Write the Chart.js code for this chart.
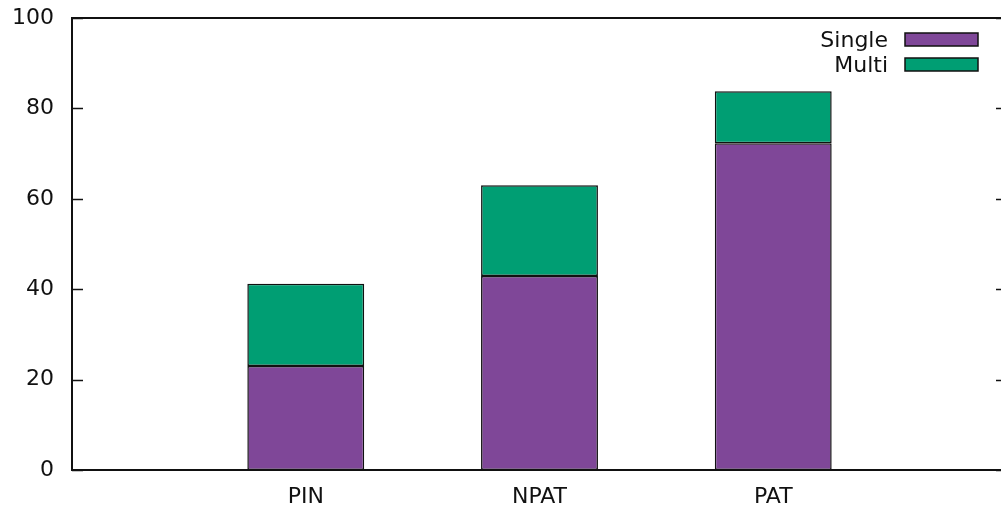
<!DOCTYPE html>
<html>
<head>
<meta charset="utf-8">
<script src="https://cdn.jsdelivr.net/npm/chart.js@4/dist/chart.umd.min.js"></script>
<style>
  html, body { margin: 0; padding: 0; background: #fff; overflow: hidden; }
  #wrap { width: 1010px; height: 508px; }
</style>
</head>
<body>
<div id="wrap"><canvas id="c" width="1010" height="508"></canvas></div>
<script>
const categories = ['PIN', 'NPAT', 'PAT'];
const singleValues = [23.0, 42.9, 72.3];
const multiValues = [18.2, 20.1, 11.5];
const yTicks = [0, 20, 40, 60, 80, 100];

const FONT = 'DejaVu Sans';
const FONT_SIZE = 22;
const BORDER = '#111';

const toPoints = vals => vals.map((v, i) => ({ x: i, y: v }));

// gnuplot-like frame: full border plus inward ticks on both y sides
const framePlugin = {
  id: 'frame',
  afterDatasetsDraw(chart) {
    const { ctx, chartArea: a, scales } = chart;
    ctx.save();
    ctx.strokeStyle = BORDER;
    ctx.lineWidth = 1.5;
    scales.y.ticks.forEach(t => {
      const py = Math.round(scales.y.getPixelForValue(t.value)) + 0.5;
      ctx.beginPath();
      ctx.moveTo(a.left, py); ctx.lineTo(a.left + 11, py);
      ctx.moveTo(a.right - 11, py); ctx.lineTo(a.right, py);
      ctx.stroke();
    });
    ctx.lineWidth = 2;
    ctx.strokeRect(a.left, a.top, a.right - a.left, a.bottom - a.top);
    ctx.restore();
  }
};

// key in the upper right: label text followed by a filled swatch
const keyPlugin = {
  id: 'key',
  afterDraw(chart) {
    const { ctx } = chart;
    ctx.save();
    ctx.font = FONT_SIZE + 'px "' + FONT + '"';
    ctx.textAlign = 'right';
    ctx.textBaseline = 'alphabetic';
    chart.data.datasets.forEach((ds, i) => {
      const top = 33 + i * 25;
      ctx.fillStyle = '#111';
      ctx.fillText(ds.label, 888, top + 14);
      ctx.fillStyle = ds.backgroundColor;
      ctx.fillRect(905, top, 73, 13);
      ctx.strokeStyle = BORDER;
      ctx.lineWidth = 1.5;
      ctx.strokeRect(905, top, 73, 13);
    });
    ctx.restore();
  }
};

const zeroPad = s => { s.paddingTop = 0; s.paddingBottom = 0; s.paddingLeft = 0; s.paddingRight = 0; };

new Chart(document.getElementById('c'), {
  type: 'bar',
  data: {
    datasets: [
      { label: 'Single', data: toPoints(singleValues), backgroundColor: '#7f4798',
        borderColor: BORDER, borderWidth: 1.5, borderSkipped: false },
      { label: 'Multi', data: toPoints(multiValues), backgroundColor: '#009e73',
        borderColor: BORDER, borderWidth: 1.5, borderSkipped: false }
    ]
  },
  options: {
    responsive: false,
    animation: false,
    layout: { padding: { top: 18, right: 3, left: 0, bottom: 0 } },
    datasets: { bar: { categoryPercentage: 1, barPercentage: 0.5 } },
    plugins: { legend: { display: false }, tooltip: { enabled: false } },
    scales: {
      x: {
        type: 'linear', stacked: true, min: -1, max: 3, offset: false,
        grid: { display: false, drawTicks: false },
        border: { display: false },
        afterFit(s) { s.height = 38; zeroPad(s); },
        afterBuildTicks(s) { s.ticks = [-1, 0, 1, 2, 3].map(v => ({ value: v })); },
        ticks: {
          padding: 14, color: '#111', font: { family: FONT, size: FONT_SIZE },
          maxRotation: 0, autoSkip: false,
          callback: v => categories[v] !== undefined ? categories[v] : ''
        }
      },
      y: {
        stacked: true, min: 0, max: 100,
        grid: { display: false, drawTicks: false },
        border: { display: false },
        afterFit(s) { s.width = 72; zeroPad(s); },
        afterBuildTicks(s) { s.ticks = yTicks.map(v => ({ value: v })); },
        ticks: { padding: 18, color: '#111', font: { family: FONT, size: FONT_SIZE } }
      }
    }
  },
  plugins: [framePlugin, keyPlugin]
});
</script>
</body>
</html>
